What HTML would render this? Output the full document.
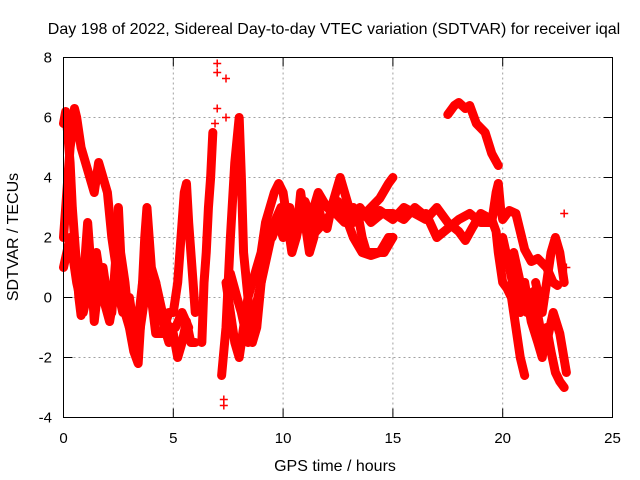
<!DOCTYPE html>
<html><head><meta charset="utf-8"><style>
body{margin:0;background:#fff}
svg{display:block;font-family:"Liberation Sans",sans-serif}
</style></head><body>
<svg id="chart" width="640" height="480" viewBox="0 0 640 480">
<rect width="640" height="480" fill="#fff"/>
<text x="334" y="34" font-size="16" text-anchor="middle">Day 198 of 2022, Sidereal Day-to-day VTEC variation (SDTVAR) for receiver iqal</text>
<text x="335" y="471" font-size="16" text-anchor="middle">GPS time / hours</text>
<text transform="translate(18,237) rotate(-90)" font-size="16" text-anchor="middle">SDTVAR / TECUs</text>
<g id="grid"></g><g id="ticks"></g><g id="series"></g>
<rect x="63.5" y="57.5" width="549" height="360" fill="none" stroke="#000"/>
</svg>
<script>
const xTicks=[0,5,10,15,20,25];
const yTicks=[-4,-2,0,2,4,6,8];
const traceA=[[0,5.8],[0.1,6.2],[0.2,5.4],[0.3,4.5],[0.4,3.0],[0.5,2.0],[0.6,1.0],[0.7,0.0],[0.8,-0.6],[0.9,0.5],[1.0,1.5],[1.1,2.5],[1.2,1.5],[1.3,0.5],[1.4,-0.8],[1.6,0.5],[1.8,1.0],[2.0,0.0],[2.2,-0.5],[2.4,1.5],[2.5,3.0],[2.6,1.5],[2.8,0.5],[3.0,-1.0],[3.2,-1.8],[3.4,-2.2],[3.5,-1.0],[3.6,0.5],[3.7,2.0],[3.8,3.0],[3.9,2.0],[4.0,1.0],[4.2,0.5],[4.4,-0.5],[4.6,-1.0],[4.8,-1.5],[5.0,-1.2],[5.2,-2.0],[5.4,-1.5],[5.6,-0.8],[5.8,-1.5],[6.0,-1.5]];
const traceB=[[0,2.0],[0.1,3.0],[0.2,4.0],[0.3,5.0],[0.4,5.5],[0.5,6.3],[0.6,6.0],[0.8,5.0],[1.0,4.5],[1.2,4.0],[1.4,3.5],[1.6,4.5],[1.8,4.0],[2.0,3.5],[2.2,2.0],[2.4,1.0],[2.6,0.5],[2.8,-0.5],[3.0,-1.0],[3.2,-0.5],[3.4,-1.5],[3.6,-0.5],[3.8,0.5],[4.0,0.0],[4.2,-1.2],[4.5,-1.2],[4.8,-0.5],[5.0,-0.5],[5.2,0.5],[5.4,2.5],[5.5,3.5],[5.6,3.8],[5.7,2.5],[5.8,1.5],[6.0,-0.5]];
const traceC=[[6.3,-1.5],[6.4,0.5],[6.5,1.5],[6.6,3.0],[6.7,4.0],[6.8,5.5]];
const traceD=[[7.2,-2.6],[7.4,-1.0],[7.6,2.0],[7.8,4.5],[8.0,6.0],[8.1,4.0],[8.2,1.5],[8.4,0.0],[8.6,-1.5],[8.8,-1.0],[9.0,0.5],[9.2,1.5]];
const traceE=[[7.4,0.5],[7.6,-0.5],[7.8,-1.5],[8.0,-2.0],[8.2,-1.0],[8.4,0],[8.6,0.5],[8.8,1.0],[9.0,1.5],[9.2,2.5],[9.4,3.0],[9.6,3.5],[9.8,3.8],[10,3.5],[10.2,2.5],[10.4,1.5],[10.6,2.0],[10.8,3.5],[11,2.5],[11.2,1.5],[11.4,2.0],[11.6,3.0],[11.8,2.5],[12,2.3],[12.2,3.0],[12.4,3.5],[12.6,4.0],[12.8,3.5],[13,3.0],[13.4,2.8],[13.6,2.0],[13.8,1.5],[14.2,1.5],[14.6,1.5],[15,2.0]];
const traceF=[[9.8,2.5],[10,2.0],[10.3,3.0],[10.6,2.0],[10.9,3.0],[11.2,2.5],[11.6,3.5],[12,3.0],[12.4,2.8],[12.8,2.5],[13.2,3.0],[13.6,2.7],[14,3.0],[14.4,3.3],[14.8,3.8],[15,4.0]];
const traceG=[[12.8,2.8],[13.2,2.0],[13.6,1.5],[14,1.4],[14.4,1.5],[14.8,2.0],[15,2.0]];
const traceH=[[13.2,2.5],[13.6,2.9],[14,2.6],[14.4,2.9],[15,2.6],[15.5,3.0],[16,2.8],[16.5,2.6],[17,3.0],[17.5,2.5],[18,2.2],[18.3,1.9],[18.6,2.3],[19,2.8],[19.5,2.6],[19.7,2.2],[19.8,1.5],[20,0.5],[20.2,0.3],[20.4,0.0],[20.6,-1.0],[20.8,-2.0],[21.0,-2.6]];
const traceI=[[16.5,2.8],[17,2.0],[17.5,2.3],[18,2.6],[18.5,2.8],[19,2.5],[19.5,2.5],[19.6,3.0],[19.7,3.5],[19.8,3.8],[19.9,3.0],[20,2.6],[20.3,2.9],[20.6,2.8],[20.8,2.2],[21.0,1.6],[21.3,1.2],[21.6,1.3],[22,1.0],[22.3,0.5],[22.5,0.4]];
const traceJ=[[17.5,6.1],[17.8,6.4],[18,6.5],[18.3,6.3],[18.5,6.4],[18.8,5.8],[19.2,5.5],[19.5,4.8],[19.8,4.4]];
const traceK=[[20,2.0],[20.3,1.0],[20.6,0.0],[20.8,-0.5],[21,0.5],[21.3,-0.8],[21.6,-1.5],[21.8,-2.0],[22,-1.0],[22.2,-1.8],[22.4,-2.5],[22.6,-2.8],[22.8,-3.0]];
const traceL=[[21.5,0.5],[21.8,-0.5],[22,0.5],[22.2,1.5],[22.4,2.0],[22.6,1.5],[22.8,0.5]];
const traceM=[[9.5,2.0],[10,3.0],[10.5,2.5],[11,3.2],[11.5,2.2],[12,2.6],[12.5,3.2],[13,2.5],[13.5,3.0],[14,2.5],[14.5,2.8],[15,2.8],[15.5,2.6],[16,3.0],[16.5,2.7]];
const traceN=[[0,1.0],[0.3,2.0],[0.6,0.5],[0.9,-0.5],[1.2,0.5],[1.5,1.5],[1.8,0],[2.1,-0.8],[2.4,0.5],[2.7,-0.5],[3.0,0],[3.3,-1.5],[3.6,0.5],[3.9,1.0],[4.2,0.5],[4.5,-0.5],[4.8,-1.0],[5.1,-1.0],[5.4,-0.5],[5.7,-1.0]];
const traceO=[[7.6,0.8],[7.9,0],[8.1,-0.5],[8.4,-1.5],[8.7,-0.5],[9.0,0.5],[9.3,1.5],[9.6,2.5],[9.9,3.0]];
const traceP=[[20.5,1.5],[20.8,0.5],[21.1,-0.5],[21.4,0.2],[21.7,-1.0],[22.0,-1.5],[22.3,-0.5],[22.6,-1.2],[22.9,-2.5]];
const outliers=[[6.5,2.0],[7.0,7.8],[7.0,7.5],[7.4,7.3],[7.4,6.0],[7.0,6.3],[6.9,5.8],[7.3,-3.4],[7.3,-3.6],[8.1,4.0],[22.8,2.8],[22.9,1.0]];
const traces=[traceA,traceB,traceC,traceD,traceE,traceF,traceG,traceH,traceI,traceJ,traceK,traceL,traceM,traceN,traceO,traceP];
const NS="http://www.w3.org/2000/svg";
const X0=63.5,XW=549,Y0=57.5,YH=360;
function sx(t){return X0+t/25*XW;}
function sy(v){return Y0+(8-v)/12*YH;}
function mk(tag,attrs,parent){const e=document.createElementNS(NS,tag);for(const k in attrs)e.setAttribute(k,attrs[k]);parent.appendChild(e);return e;}
const grid=document.getElementById('grid'),ticks=document.getElementById('ticks'),series=document.getElementById('series');
xTicks.forEach(t=>{
 const x=sx(t);
 if(t>0&&t<25){const g=mk('line',{x1:x,x2:x,y1:Y0,y2:Y0+YH,stroke:'#a0a0a0','stroke-dasharray':'2,3'},grid);
 
 }
 mk('line',{x1:x,x2:x,y1:Y0+YH,y2:Y0+YH-9,stroke:'#000'},ticks);
 mk('line',{x1:x,x2:x,y1:Y0,y2:Y0+9,stroke:'#000'},ticks);
 const l=mk('text',{x:x,y:443,'font-size':15,'text-anchor':'middle'},ticks);l.textContent=t;
 
 
});
yTicks.forEach(v=>{
 const y=sy(v);
 if(v>-4&&v<8){const g=mk('line',{x1:X0,x2:X0+XW,y1:y,y2:y,stroke:'#a0a0a0','stroke-dasharray':'2,3'},grid);
 
 }
 mk('line',{x1:X0,x2:X0+9,y1:y,y2:y,stroke:'#000'},ticks);
 mk('line',{x1:X0+XW,x2:X0+XW-9,y1:y,y2:y,stroke:'#000'},ticks);
 const l=mk('text',{x:52,y:y+5,'font-size':15,'text-anchor':'end'},ticks);l.textContent=v;
 
 
});
function plus(t,v,parent){const x=sx(t),y=sy(v);
 mk('path',{d:`M${x-4},${y}H${x+4}M${x},${y-4}V${y+4}`,stroke:'#f00','stroke-width':1.5},parent);}
traces.forEach((tr,i)=>{
 const g=mk('g',{},series);
 
 
 mk('polyline',{points:tr.map(p=>sx(p[0])+','+sy(p[1])).join(' '),fill:'none',stroke:'#f00','stroke-width':9,'stroke-linejoin':'round','stroke-linecap':'round'},g);
 tr.forEach(p=>plus(p[0],p[1],g));
});
const og=mk('g',{},series);


outliers.forEach(p=>plus(p[0],p[1],og));
</script>
</body></html>
